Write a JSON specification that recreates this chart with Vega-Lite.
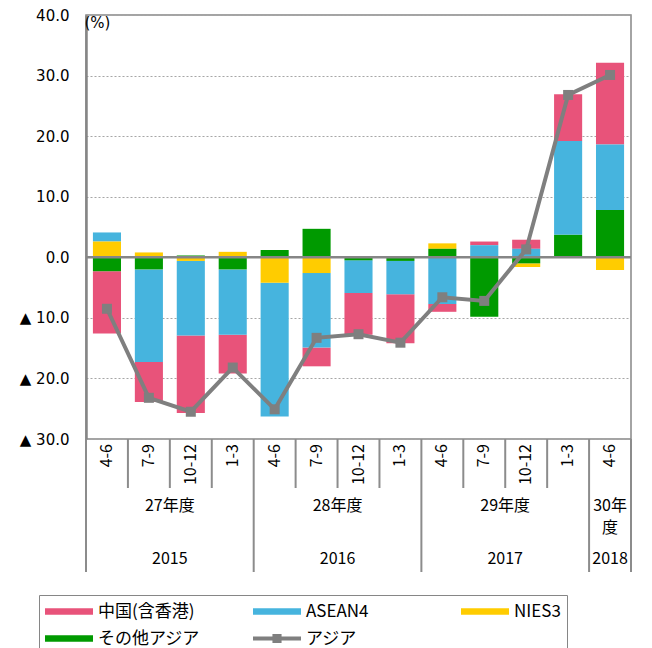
{
  "$schema": "https://vega.github.io/schema/vega-lite/v6.json",
  "padding": {"left": 18, "top": 7, "right": 5, "bottom": 0},
  "config": {"view": {"stroke": null}, "font": "Noto Sans CJK JP"},
  "datasets": {
    "q": [
      {"q": "H27 4-6", "quarter": "4-6", "fy": "27年度", "year": "2015", "中国(含香港)": -10.3, "ASEAN4": 1.5, "NIES3": 2.6, "その他アジア": -2.3, "アジア": -8.5},
      {"q": "H27 7-9", "quarter": "7-9", "fy": "27年度", "year": "2015", "中国(含香港)": -6.6, "ASEAN4": -15.3, "NIES3": 0.8, "その他アジア": -2.0, "アジア": -23.2},
      {"q": "H27 10-12", "quarter": "10-12", "fy": "27年度", "year": "2015", "中国(含香港)": -12.8, "ASEAN4": -12.3, "NIES3": -0.6, "その他アジア": 0.3, "アジア": -25.5},
      {"q": "H27 1-3", "quarter": "1-3", "fy": "27年度", "year": "2015", "中国(含香港)": -6.4, "ASEAN4": -10.8, "NIES3": 0.9, "その他アジア": -2.0, "アジア": -18.2},
      {"q": "H28 4-6", "quarter": "4-6", "fy": "28年度", "year": "2016", "中国(含香港)": 0.0, "ASEAN4": -22.1, "NIES3": -4.2, "その他アジア": 1.2, "アジア": -25.1},
      {"q": "H28 7-9", "quarter": "7-9", "fy": "28年度", "year": "2016", "中国(含香港)": -3.1, "ASEAN4": -12.3, "NIES3": -2.6, "その他アジア": 4.7, "アジア": -13.3},
      {"q": "H28 10-12", "quarter": "10-12", "fy": "28年度", "year": "2016", "中国(含香港)": -6.9, "ASEAN4": -5.4, "NIES3": 0.0, "その他アジア": -0.5, "アジア": -12.7},
      {"q": "H28 1-3", "quarter": "1-3", "fy": "28年度", "year": "2016", "中国(含香港)": -8.1, "ASEAN4": -5.5, "NIES3": 0.2, "その他アジア": -0.6, "アジア": -14.1},
      {"q": "H29 4-6", "quarter": "4-6", "fy": "29年度", "year": "2017", "中国(含香港)": -1.3, "ASEAN4": -7.7, "NIES3": 0.9, "その他アジア": 1.4, "アジア": -6.6},
      {"q": "H29 7-9", "quarter": "7-9", "fy": "29年度", "year": "2017", "中国(含香港)": 0.6, "ASEAN4": 2.0, "NIES3": 0.0, "その他アジア": -9.8, "アジア": -7.2},
      {"q": "H29 10-12", "quarter": "10-12", "fy": "29年度", "year": "2017", "中国(含香港)": 1.5, "ASEAN4": 1.4, "NIES3": -0.6, "その他アジア": -1.0, "アジア": 1.3},
      {"q": "H29 1-3", "quarter": "1-3", "fy": "29年度", "year": "2017", "中国(含香港)": 7.7, "ASEAN4": 15.5, "NIES3": 0.0, "その他アジア": 3.7, "アジア": 26.8},
      {"q": "H30 4-6", "quarter": "4-6", "fy": "30年\n度", "year": "2018", "中国(含香港)": 13.5, "ASEAN4": 10.8, "NIES3": -2.1, "その他アジア": 7.8, "アジア": 30.1}
    ]
  },
  "spacing": 0,
  "bounds": "flush",
  "resolve": {"scale": {"x": "independent"}},
  "vconcat": [
    {
      "width": 545,
      "height": 424,
      "view": {"stroke": "#868686", "strokeWidth": 1.5},
      "data": {"name": "q"},
      "layer": [
        {
          "transform": [
            {"fold": ["中国(含香港)", "ASEAN4", "NIES3", "その他アジア"], "as": ["series", "value"]},
            {"calculate": "indexof(['その他アジア', 'NIES3', 'ASEAN4', '中国(含香港)'], datum.series)", "as": "ord"}
          ],
          "mark": {"type": "bar"},
          "encoding": {
            "x": {"field": "q", "type": "nominal", "axis": null,
              "scale": {"type": "band", "domain": ["H27 4-6", "H27 7-9", "H27 10-12", "H27 1-3", "H28 4-6", "H28 7-9", "H28 10-12", "H28 1-3", "H29 4-6", "H29 7-9", "H29 10-12", "H29 1-3", "H30 4-6"], "paddingInner": 0.33, "paddingOuter": 0.165}},
            "y": {"field": "value", "type": "quantitative", "stack": "zero",
              "scale": {"domain": [-30, 40], "nice": false, "zero": false},
              "axis": {"title": "(%)", "titleAngle": 0, "titleAlign": "left", "titleBaseline": "top", "titleX": -2, "titleY": 0,
                "titleFont": "DejaVu Sans", "titleFontSize": 15, "titleFontWeight": "normal", "titleColor": "#000000",
                "values": [-30, -20, -10, 0, 10, 20, 30, 40],
                "labelExpr": "datum.value < 0 ? '▲ ' + format(-datum.value, '.1f') : format(datum.value, '.1f')",
                "labelFont": "DejaVu Sans", "labelFontSize": 15, "labelColor": "#000000", "labelPadding": 17,
                "ticks": false, "domainColor": "#868686", "domainWidth": 2.5,
                "grid": true, "gridColor": "#a6a6a6", "gridDash": [2, 2], "gridWidth": 1.2}},
            "color": {"field": "series", "type": "nominal",
              "scale": {"domain": ["中国(含香港)", "その他アジア", "ASEAN4", "アジア", "NIES3"], "range": ["#E8537A", "#009A00", "#46B4DE", "#7F7F7F", "#FFCC00"]},
              "legend": {"orient": "none", "legendX": -47, "legendY": 580, "title": null, "columns": 3, "gridAlign": "all",
                "columnPadding": 53, "rowPadding": 6, "padding": 6, "strokeColor": "#868686",
                "symbolSize": 2304, "clipHeight": 21, "labelFont": "Noto Sans CJK JP", "labelFontSize": 17, "labelOffset": 5, "labelColor": "#000000",
                "encode": {"symbols": {"update": {
                  "shape": {"signal": "datum.value === 'アジア' ? 'M-1,-0.08L-0.19,-0.08L-0.19,-0.19L0.19,-0.19L0.19,-0.08L1,-0.08L1,0.08L0.19,0.08L0.19,0.19L-0.19,0.19L-0.19,0.08L-1,0.08Z' : 'M-1,-0.14L1,-0.14L1,0.14L-1,0.14Z'"},
                  "fill": {"signal": "scale('color', datum.value)"},
                  "stroke": {"value": "transparent"},
                  "strokeWidth": {"value": 0},
                  "opacity": {"value": 1}}}}}},
            "order": {"field": "ord", "type": "quantitative"}
          }
        },
        {
          "data": {"values": [{}]},
          "mark": {"type": "rule", "color": "#868686", "strokeWidth": 2.5},
          "encoding": {"y": {"datum": 0, "type": "quantitative"}}
        },
        {
          "mark": {"type": "line", "strokeWidth": 4, "point": {"shape": "square", "size": 100, "filled": true, "opacity": 1}},
          "encoding": {
            "x": {"field": "q", "type": "nominal", "axis": null},
            "y": {"field": "アジア", "type": "quantitative"},
            "color": {"datum": "アジア"}
          }
        }
      ]
    },
    {
      "width": 545,
      "height": 49,
      "data": {"name": "q"},
      "encoding": {
        "x": {"field": "q", "type": "nominal", "axis": null,
          "scale": {"type": "band", "domain": ["H27 4-6", "H27 7-9", "H27 10-12", "H27 1-3", "H28 4-6", "H28 7-9", "H28 10-12", "H28 1-3", "H29 4-6", "H29 7-9", "H29 10-12", "H29 1-3", "H30 4-6"], "paddingInner": 0, "paddingOuter": 0}}
      },
      "layer": [
        {"mark": {"type": "rule", "color": "#8c8c8c", "strokeWidth": 2}, "encoding": {"x": {"field": "q", "type": "nominal", "bandPosition": 0}}},
        {"transform": [{"filter": "datum.q === 'H30 4-6'"}], "mark": {"type": "rule", "color": "#8c8c8c", "strokeWidth": 2}, "encoding": {"x": {"field": "q", "type": "nominal", "bandPosition": 1}}},
        {"mark": {"type": "text", "angle": 270, "align": "right", "baseline": "middle", "dx": 19.5, "fontSize": 16, "color": "#000000"},
          "encoding": {"x": {"field": "q", "type": "nominal", "bandPosition": 0.5}, "text": {"field": "quarter"}}}
      ]
    },
    {
      "width": 545,
      "height": 55,
      "data": {"name": "q"},
      "encoding": {
        "x": {"field": "q", "type": "nominal", "axis": null,
          "scale": {"type": "band", "domain": ["H27 4-6", "H27 7-9", "H27 10-12", "H27 1-3", "H28 4-6", "H28 7-9", "H28 10-12", "H28 1-3", "H29 4-6", "H29 7-9", "H29 10-12", "H29 1-3", "H30 4-6"], "paddingInner": 0, "paddingOuter": 0}}
      },
      "layer": [
        {"transform": [{"filter": "datum.quarter === '4-6'"}], "mark": {"type": "rule", "color": "#8c8c8c", "strokeWidth": 2}, "encoding": {"x": {"field": "q", "type": "nominal", "bandPosition": 0}}},
        {"transform": [{"filter": "datum.q === 'H30 4-6'"}], "mark": {"type": "rule", "color": "#8c8c8c", "strokeWidth": 2}, "encoding": {"x": {"field": "q", "type": "nominal", "bandPosition": 1}}},
        {"transform": [{"filter": "datum.quarter === '10-12'"}], "mark": {"type": "text", "align": "center", "baseline": "top", "dy": -18, "fontSize": 16, "color": "#000000"},
          "encoding": {"x": {"field": "q", "type": "nominal", "bandPosition": 0}, "text": {"field": "fy"}}},
        {"transform": [{"filter": "datum.q === 'H30 4-6'"}], "mark": {"type": "text", "align": "center", "baseline": "top", "dy": -18, "fontSize": 16, "lineBreak": "\n", "lineHeight": 22, "color": "#000000"},
          "encoding": {"x": {"field": "q", "type": "nominal", "bandPosition": 0.5}, "text": {"field": "fy"}}}
      ]
    },
    {
      "width": 545,
      "height": 29,
      "data": {"name": "q"},
      "encoding": {
        "x": {"field": "q", "type": "nominal", "axis": null,
          "scale": {"type": "band", "domain": ["H27 4-6", "H27 7-9", "H27 10-12", "H27 1-3", "H28 4-6", "H28 7-9", "H28 10-12", "H28 1-3", "H29 4-6", "H29 7-9", "H29 10-12", "H29 1-3", "H30 4-6"], "paddingInner": 0, "paddingOuter": 0}}
      },
      "layer": [
        {"transform": [{"filter": "datum.quarter === '4-6'"}], "mark": {"type": "rule", "color": "#8c8c8c", "strokeWidth": 2}, "encoding": {"x": {"field": "q", "type": "nominal", "bandPosition": 0}}},
        {"transform": [{"filter": "datum.q === 'H30 4-6'"}], "mark": {"type": "rule", "color": "#8c8c8c", "strokeWidth": 2}, "encoding": {"x": {"field": "q", "type": "nominal", "bandPosition": 1}}},
        {"transform": [{"filter": "datum.quarter === '10-12'"}], "mark": {"type": "text", "align": "center", "baseline": "middle", "dy": 1.5, "fontSize": 16, "color": "#000000"},
          "encoding": {"x": {"field": "q", "type": "nominal", "bandPosition": 0}, "text": {"field": "year"}}},
        {"transform": [{"filter": "datum.q === 'H30 4-6'"}], "mark": {"type": "text", "align": "center", "baseline": "middle", "dy": 1.5, "fontSize": 16, "color": "#000000"},
          "encoding": {"x": {"field": "q", "type": "nominal", "bandPosition": 0.5}, "text": {"field": "year"}}}
      ]
    }
  ]
}
